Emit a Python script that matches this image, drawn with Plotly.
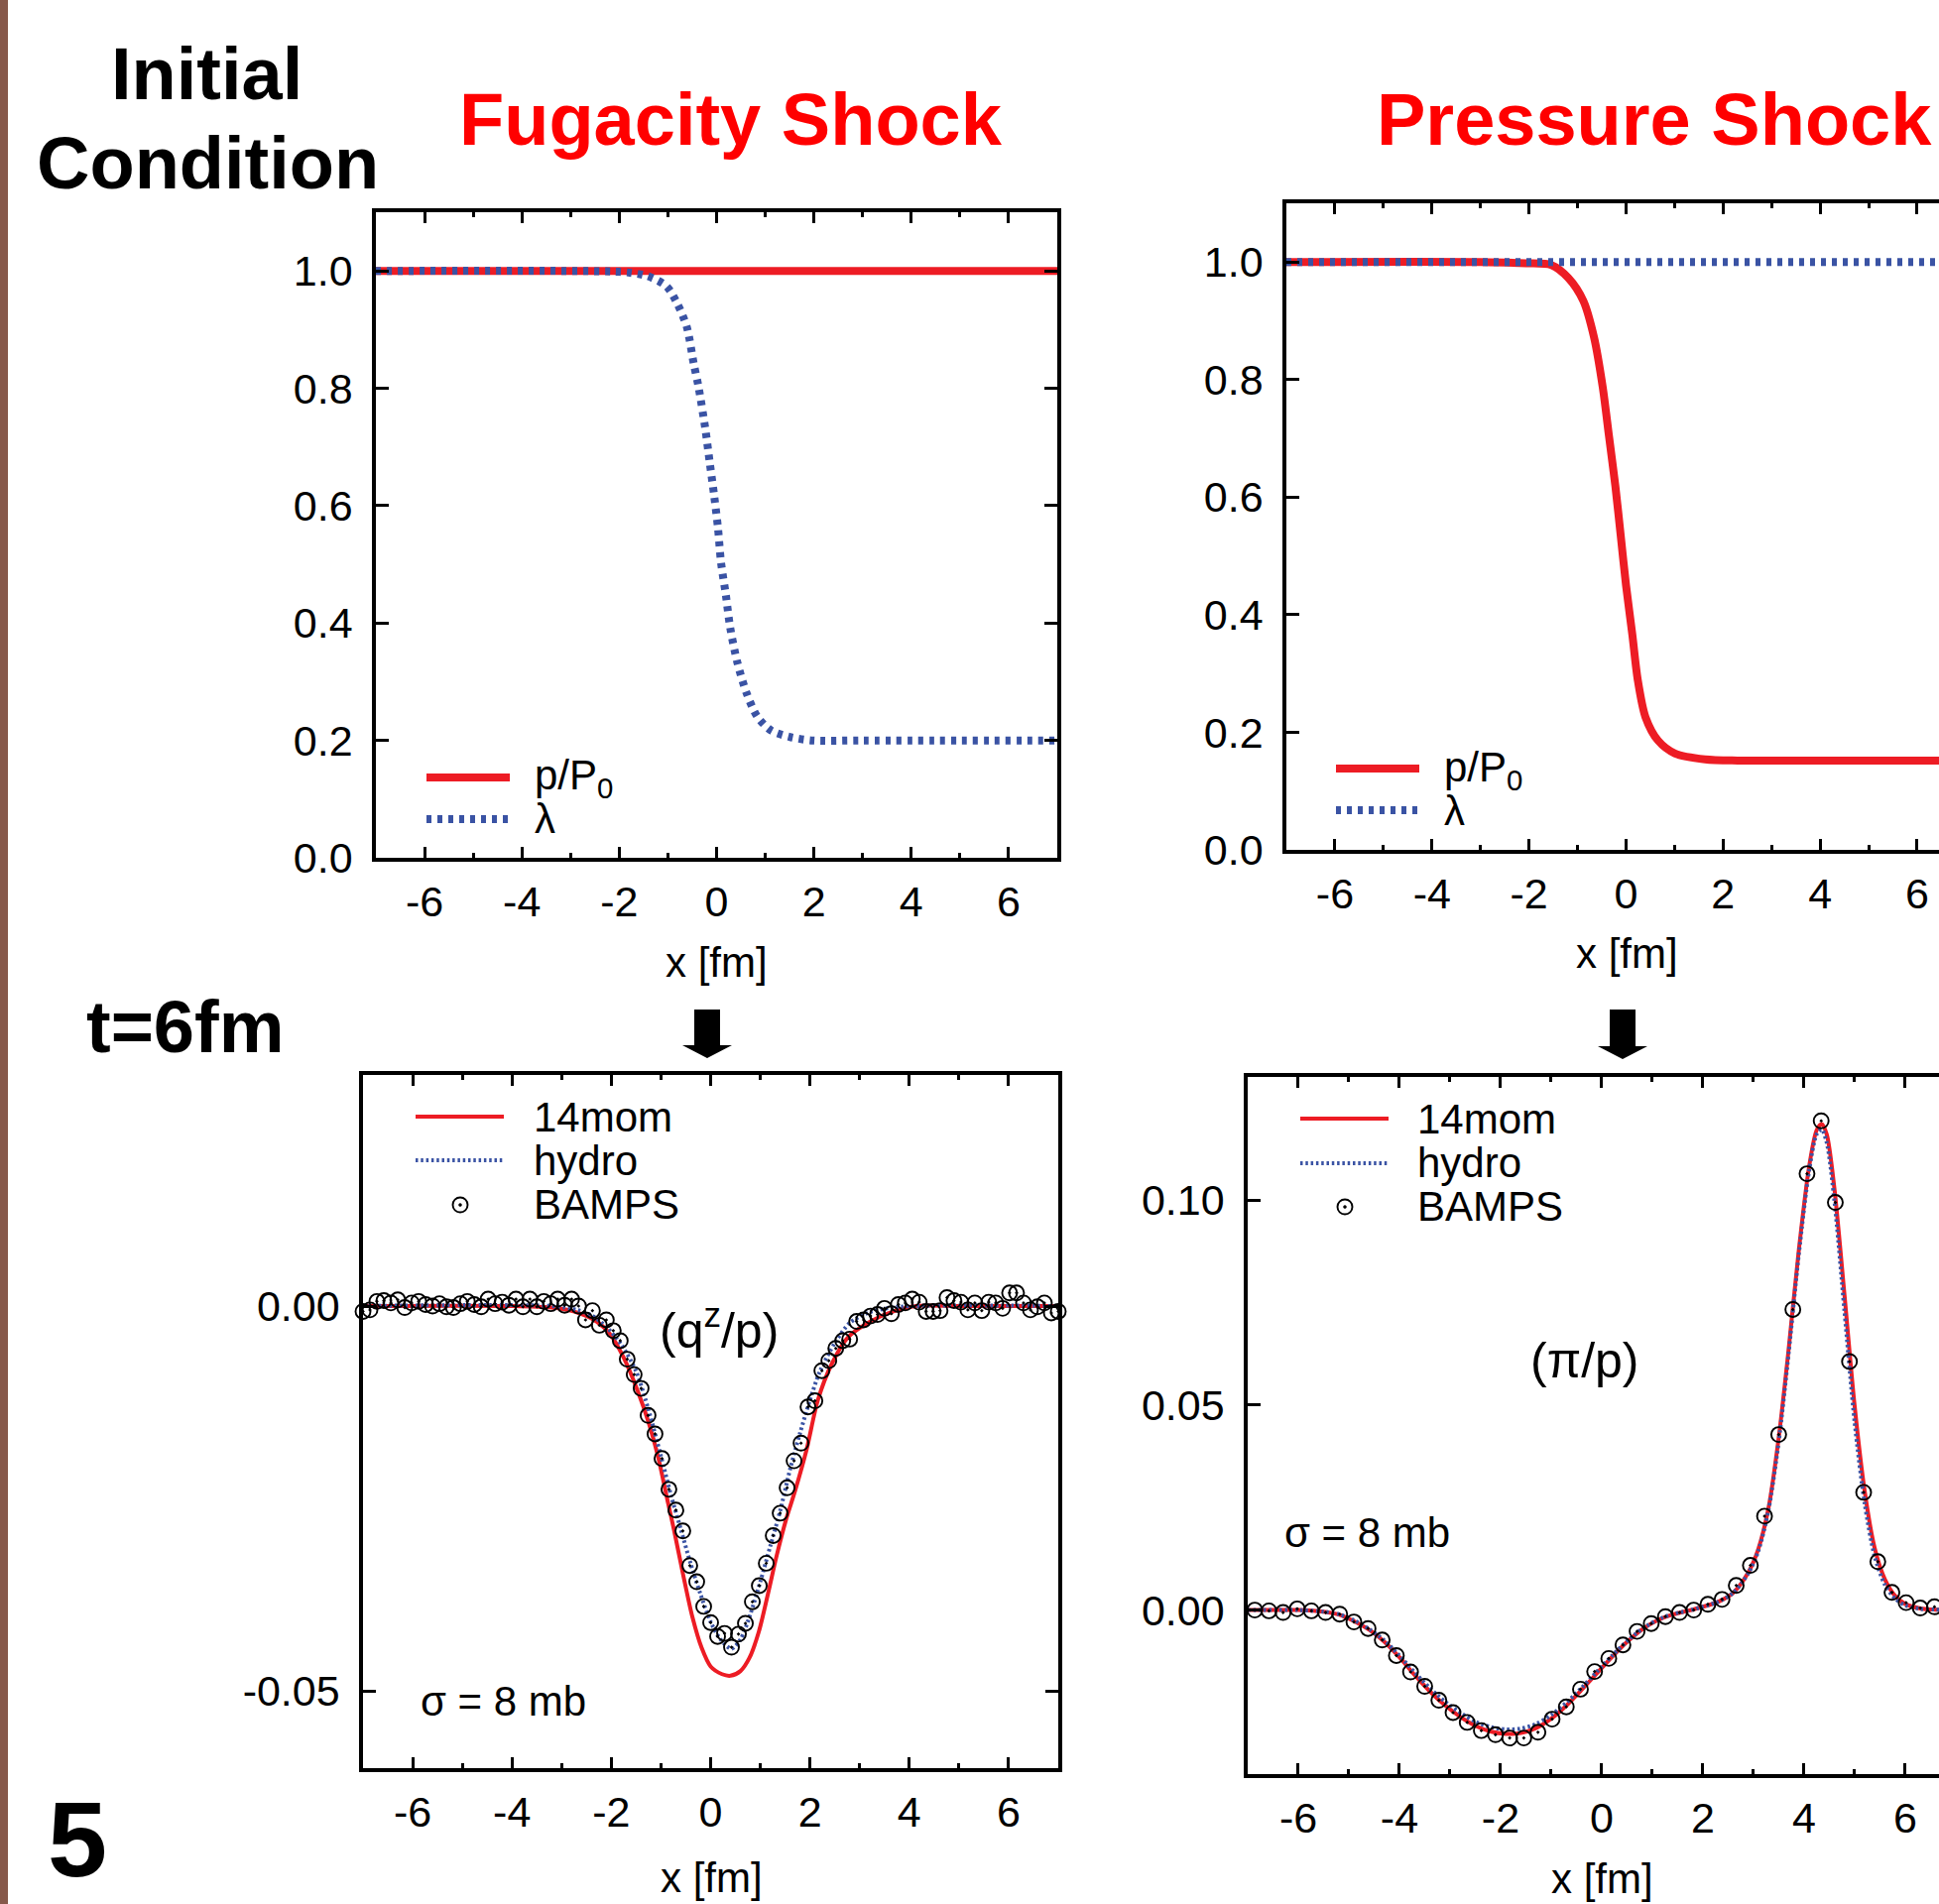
import plotly.graph_objects as go

W, H = 1955, 1920
def px(x): return x / W
def py(y): return 1 - y / H

RED = '#ED1C24'
BLUE = '#3A53A4'
TRED = '#FF0000'
FONT = 'Liberation Sans, Arial, Helvetica, sans-serif'

# ---------------- data ----------------
x_ticks = [-6, -4, -2, 0, 2, 4, 6]
x_ticktext = ['-6', '-4', '-2', '0', '2', '4', '6']
x_minor = [-5, -3, -1, 1, 3, 5]
top_y_ticks = [0.0, 0.2, 0.4, 0.6, 0.8, 1.0]
top_y_ticktext = ['0.0', '0.2', '0.4', '0.6', '0.8', '1.0']
bl_y_ticks = [-0.05, 0.0]
bl_y_ticktext = ['-0.05', '0.00']
br_y_ticks = [0.0, 0.05, 0.10]
br_y_ticktext = ['0.00', '0.05', '0.10']

# Fugacity shock initial condition
fug_p_x = [-7.0, 7.0]
fug_p_y = [1.0, 1.0]
fug_lam_x = [-7.0, -3.0, -2.16, -1.78, -1.41, -1.03, -0.80, -0.61, -0.47, -0.37, -0.23, -0.14,
             -0.05, 0.03, 0.09, 0.19, 0.28, 0.42, 0.61, 0.84, 1.12, 1.50, 1.97, 3.0, 7.0]
fug_lam_y = [1.0, 1.0, 0.999, 0.997, 0.991, 0.974, 0.943, 0.904, 0.842, 0.802, 0.730, 0.673,
             0.617, 0.561, 0.504, 0.448, 0.392, 0.335, 0.282, 0.240, 0.217, 0.206, 0.200, 0.200, 0.200]

# Pressure shock initial condition
prs_p_x = [-7.0, -3.0, -2.06, -1.54, -1.19, -0.88, -0.66, -0.48, -0.35, -0.22, -0.11, 0.0,
           0.13, 0.24, 0.40, 0.66, 1.01, 1.63, 2.3, 4.0, 7.0]
prs_p_y = [1.0, 1.0, 0.998, 0.995, 0.973, 0.934, 0.872, 0.787, 0.703, 0.619, 0.535, 0.450,
           0.366, 0.290, 0.226, 0.186, 0.164, 0.154, 0.152, 0.152, 0.152]
prs_lam_x = [-7.0, 7.0]
prs_lam_y = [1.0, 1.0]

# Fugacity shock, t = 6 fm : q^z / p
fq_mom_x = [-7.0, -4.0, -3.2, -2.76, -2.3, -2.02, -1.75, -1.47, -1.24, -1.06, -0.87, -0.74,
            -0.55, -0.37, -0.18, 0.0, 0.23, 0.40, 0.60, 0.78, 0.97, 1.15, 1.33, 1.52, 1.70,
            1.93, 2.16, 2.44, 2.76, 3.22, 3.68, 4.14, 5.0, 7.0]
fq_mom_y = [0.0, 0.0, -0.0002, -0.0007, -0.0020, -0.0037, -0.0067, -0.0110, -0.0153, -0.0195,
            -0.0252, -0.0290, -0.0350, -0.0403, -0.0444, -0.0468, -0.0478, -0.0480, -0.0474,
            -0.0457, -0.0423, -0.0375, -0.0324, -0.0277, -0.0240, -0.0187, -0.0122, -0.0075,
            -0.0041, -0.0020, -0.0007, 0.0, 0.0, 0.0]
fq_hyd_x = [-7.0, -3.2, -2.7, -2.4, -2.1, -1.8, -1.5, -1.25, -1.0, -0.8, -0.6, -0.4, -0.2,
            0.0, 0.2, 0.42, 0.6, 0.8, 1.0, 1.2, 1.4, 1.6, 1.8, 2.0, 2.2, 2.5, 2.8, 3.2, 3.8, 7.0]
fq_hyd_y = [0.0, 0.0, -0.0005, -0.0012, -0.0027, -0.0050, -0.0085, -0.0135, -0.0195, -0.0245,
            -0.0290, -0.0335, -0.0375, -0.0410, -0.0433, -0.0445, -0.0433, -0.0400, -0.0358,
            -0.0312, -0.0266, -0.0212, -0.0165, -0.0122, -0.0085, -0.0048, -0.0022, -0.0008,
            -0.0001, 0.0]
fq_bamps_x = [-7.00, -6.86, -6.72, -6.58, -6.44, -6.30, -6.16, -6.02, -5.88, -5.74, -5.60,
              -5.46, -5.32, -5.18, -5.04, -4.90, -4.76, -4.62, -4.48, -4.34, -4.20, -4.06,
              -3.92, -3.78, -3.64, -3.50, -3.36, -3.22, -3.08, -2.94, -2.80, -2.66, -2.52,
              -2.38, -2.24, -2.10, -1.96, -1.82, -1.68, -1.54, -1.40, -1.26, -1.12, -0.98,
              -0.84, -0.70, -0.56, -0.42, -0.28, -0.14, 0.00, 0.14, 0.28, 0.42, 0.56, 0.70,
              0.84, 0.98, 1.12, 1.26, 1.40, 1.54, 1.68, 1.82, 1.96, 2.10, 2.24, 2.38, 2.52,
              2.66, 2.80, 2.94, 3.08, 3.22, 3.36, 3.50, 3.64, 3.78, 3.92, 4.06, 4.20, 4.34,
              4.48, 4.62, 4.76, 4.90, 5.04, 5.18, 5.32, 5.46, 5.60, 5.74, 5.88, 6.02, 6.16,
              6.30, 6.44, 6.58, 6.72, 6.86, 7.00]
fq_bamps_y = [-0.0007, -0.0005, 0.0006, 0.0007, 0.0004, 0.0008, -0.0002, 0.0004, 0.0006, 0.0002,
              0.0000, 0.0003, -0.0001, -0.0002, 0.0003, 0.0006, 0.0002, -0.0001, 0.0009, 0.0003,
              0.0005, 0.0001, 0.0009, -0.0001, 0.0009, -0.0001, 0.0006, 0.0003, 0.0009, 0.0001,
              0.0009, 0.0000, -0.0018, -0.0006, -0.0025, -0.0018, -0.0032, -0.0045, -0.0069,
              -0.0089, -0.0107, -0.0142, -0.0166, -0.0198, -0.0238, -0.0265, -0.0292, -0.0337,
              -0.0358, -0.0390, -0.0411, -0.0429, -0.0425, -0.0443, -0.0426, -0.0412, -0.0384,
              -0.0363, -0.0334, -0.0298, -0.0269, -0.0236, -0.0201, -0.0178, -0.0131, -0.0123,
              -0.0084, -0.0071, -0.0055, -0.0045, -0.0043, -0.0020, -0.0018, -0.0013, -0.0011,
              -0.0003, -0.0010, 0.0002, 0.0004, 0.0009, 0.0005, -0.0007, -0.0007, -0.0006,
              0.0011, 0.0007, 0.0005, -0.0005, 0.0004, -0.0006, 0.0005, 0.0004, -0.0003, 0.0017,
              0.0017, 0.0004, -0.0005, -0.0001, 0.0004, -0.0009, -0.0007]

# Pressure shock, t = 6 fm : pi / p
pp_mom_x = [-7.0, -6.0, -5.5, -5.2, -4.9, -4.6, -4.3, -4.0, -3.7, -3.4, -3.1, -2.8, -2.5, -2.2,
            -1.9, -1.6, -1.3, -1.0, -0.7, -0.4, -0.1, 0.2, 0.5, 0.8, 1.1, 1.4, 1.7, 2.0, 2.3,
            2.6, 2.9, 3.1, 3.3, 3.5, 3.7, 3.9, 4.1, 4.25, 4.35, 4.45, 4.6, 4.8, 5.0, 5.2, 5.4,
            5.6, 5.8, 6.0, 6.3, 6.6, 7.0]
pp_mom_y = [0.0, 0.0, -0.0004, -0.0011, -0.0027, -0.0048, -0.0077, -0.0115, -0.0158, -0.0198,
            -0.0232, -0.0260, -0.0282, -0.0296, -0.0302, -0.0300, -0.0288, -0.0265, -0.0233,
            -0.0195, -0.0155, -0.0115, -0.0078, -0.0047, -0.0025, -0.0011, -0.0002, 0.0008,
            0.0020, 0.0042, 0.0092, 0.0150, 0.0250, 0.0420, 0.0640, 0.0880, 0.1080, 0.1170,
            0.1185, 0.1160, 0.1030, 0.0770, 0.0500, 0.0290, 0.0150, 0.0075, 0.0035, 0.0015,
            0.0004, 0.0001, 0.0]
pp_hyd_x = pp_mom_x
pp_hyd_y = [0.0, 0.0, -0.0004, -0.0010, -0.0025, -0.0046, -0.0074, -0.0111, -0.0152, -0.0190,
            -0.0223, -0.0250, -0.0272, -0.0285, -0.0291, -0.0289, -0.0278, -0.0256, -0.0226,
            -0.0190, -0.0151, -0.0112, -0.0076, -0.0046, -0.0024, -0.0010, -0.0002, 0.0008,
            0.0020, 0.0042, 0.0090, 0.0145, 0.0245, 0.0410, 0.0630, 0.0870, 0.1070, 0.1160,
            0.1172, 0.1140, 0.1000, 0.0730, 0.0460, 0.0260, 0.0130, 0.0062, 0.0028, 0.0012,
            0.0003, 0.0001, 0.0]
pp_bamps_x = [-6.86, -6.58, -6.30, -6.02, -5.74, -5.46, -5.18, -4.90, -4.62, -4.34, -4.06,
              -3.78, -3.50, -3.22, -2.94, -2.66, -2.38, -2.10, -1.82, -1.54, -1.26, -0.98,
              -0.70, -0.42, -0.14, 0.14, 0.42, 0.70, 0.98, 1.26, 1.54, 1.82, 2.10, 2.38, 2.66,
              2.94, 3.22, 3.50, 3.78, 4.06, 4.34, 4.62, 4.90, 5.18, 5.46, 5.74, 6.02, 6.30,
              6.58, 6.86]
pp_bamps_y = [0.0000, -0.0002, -0.0006, 0.0003, -0.0002, -0.0006, -0.0010, -0.0029, -0.0045,
              -0.0073, -0.0111, -0.0151, -0.0186, -0.0220, -0.0250, -0.0274, -0.0294, -0.0304,
              -0.0312, -0.0312, -0.0298, -0.0266, -0.0236, -0.0193, -0.0150, -0.0118, -0.0085,
              -0.0052, -0.0033, -0.0016, -0.0006, 0.0000, 0.0014, 0.0026, 0.0060, 0.0109, 0.0229,
              0.0428, 0.0733, 0.1064, 0.1193, 0.0994, 0.0606, 0.0287, 0.0118, 0.0043, 0.0018,
              0.0005, 0.0008, 0.0000]

# ---------------- figure ----------------
fig = go.Figure()

def line(x, y, ax, color, width, dash='solid', spline=True):
    fig.add_trace(go.Scatter(x=x, y=y, mode='lines', xaxis='x' + ax, yaxis='y' + ax,
                             line=dict(color=color, width=width, dash=dash,
                                       shape='spline' if spline else 'linear', smoothing=0.8),
                             showlegend=False, hoverinfo='skip'))

line(fug_p_x, fug_p_y, '', RED, 8, spline=False)
line(fug_lam_x, fug_lam_y, '', BLUE, 8, '5px,6px')
line(prs_p_x, prs_p_y, '2', RED, 8)
line(prs_lam_x, prs_lam_y, '2', BLUE, 8, '5px,6px', spline=False)
line(fq_mom_x, fq_mom_y, '3', RED, 4)
line(fq_hyd_x, fq_hyd_y, '3', BLUE, 4, '2.5px,2.8px')
line(pp_mom_x, pp_mom_y, '4', RED, 4)
line(pp_hyd_x, pp_hyd_y, '4', BLUE, 4, '2.5px,2.8px')

for bx, by, ax in [(fq_bamps_x, fq_bamps_y, '3'), (pp_bamps_x, pp_bamps_y, '4')]:
    fig.add_trace(go.Scatter(x=bx, y=by, mode='markers', xaxis='x' + ax, yaxis='y' + ax,
                             marker=dict(symbol='circle-open-dot', size=15, color='black',
                                         line=dict(width=1.9, color='black')),
                             cliponaxis=False, showlegend=False, hoverinfo='skip'))

tickfont = dict(family=FONT, size=43, color='black')
def xax(domain, anchor, rng, mirror='ticks'):
    return dict(domain=domain, anchor=anchor, range=rng, showline=True, linewidth=3.5,
                linecolor='black', mirror=mirror, ticks='inside', ticklen=11, tickwidth=3,
                tickcolor='black', tickmode='array', tickvals=x_ticks, ticktext=x_ticktext,
                minor=dict(tickmode='array', tickvals=x_minor, ticks='inside', ticklen=5,
                           tickwidth=3, tickcolor='black'),
                showgrid=False, zeroline=False, tickfont=tickfont, ticklabelstandoff=4,
                automargin=False, fixedrange=True)
def yax(domain, anchor, rng, tv, tt, mirror='ticks'):
    return dict(domain=domain, anchor=anchor, range=rng, showline=True, linewidth=3.5,
                linecolor='black', mirror=mirror, ticks='inside', ticklen=13, tickwidth=3,
                tickcolor='black', tickmode='array', tickvals=tv, ticktext=tt,
                showgrid=False, zeroline=False, tickfont=tickfont, ticklabelstandoff=11,
                automargin=False, fixedrange=True)

TL_X = [px(379), px(1066)]; TL_Y = [py(865), py(214)]
TR_X = [px(1297), 1.0];     TR_Y = [py(857), py(205)]
BL_X = [px(366), px(1067)]; BL_Y = [py(1783), py(1084)]
BR_X = [px(1258), 1.0];     BR_Y = [py(1789), py(1086)]

fig.update_layout(
    template='none',
    width=W, height=H, margin=dict(l=0, r=0, t=0, b=0, pad=0, autoexpand=False),
    autosize=False,
    paper_bgcolor='white', plot_bgcolor='white', showlegend=False,
    xaxis=xax(TL_X, 'y', [-7, 7]),
    yaxis=yax(TL_Y, 'x', [0, 1.1], top_y_ticks, top_y_ticktext),
    xaxis2=xax(TR_X, 'y2', [-7, 6.45]),
    yaxis2=yax(TR_Y, 'x2', [0, 1.1], top_y_ticks, top_y_ticktext, mirror=False),
    xaxis3=xax(BL_X, 'y3', [-7, 7]),
    yaxis3=yax(BL_Y, 'x3', [-0.06, 0.03], bl_y_ticks, bl_y_ticktext),
    xaxis4=xax(BR_X, 'y4', [-7, 6.67]),
    yaxis4=yax(BR_Y, 'x4', [-0.04, 0.13], br_y_ticks, br_y_ticktext, mirror=False),
)

ann = []
def text(t, x, y, size=42, color='black', xanchor='center', bold=False):
    ann.append(dict(text=('<b>%s</b>' % t) if bold else t, x=px(x), y=py(y), xref='paper',
                    yref='paper', xanchor=xanchor, yanchor='middle', showarrow=False,
                    font=dict(family=FONT, size=size, color=color)))

text('Initial', 208, 74, 74, bold=True)
text('Condition', 209, 164, 74, bold=True)
text('Fugacity Shock', 737, 120, 74, TRED, bold=True)
text('Pressure Shock', 1386, 120, 74, TRED, xanchor='left', bold=True)
text('t=6fm', 85, 1035, 74, xanchor='left', bold=True)
text('5', 46, 1854, 108, xanchor='left', bold=True)

for (x, y) in [(722, 970), (1640, 961), (717, 1893), (1615, 1894)]:
    text('x [fm]', x, y)

# legends
text('p/P<sub>0</sub>', 537, 784, xanchor='left')
text('λ', 537, 825, xanchor='left')
text('p/P<sub>0</sub>', 1454, 776, xanchor='left')
text('λ', 1454, 817, xanchor='left')
for (lx, ly) in [(536, 1126), (1427, 1128)]:
    text('14mom', lx, ly, xanchor='left')
    text('hydro', lx, ly + 44, xanchor='left')
    text('BAMPS', lx, ly + 88, xanchor='left')

text('(q<sup>z</sup>/p)', 725, 1338, 50)
text('(π/p)', 1598, 1372, 50)
text('σ = 8 mb', 422, 1715, xanchor='left')
text('σ = 8 mb', 1293, 1545, xanchor='left')

shapes = []
def seg(x0, x1, y, color, width, dash='solid'):
    shapes.append(dict(type='line', xref='paper', yref='paper', x0=px(x0), x1=px(x1),
                       y0=py(y), y1=py(y), line=dict(color=color, width=width, dash=dash)))
seg(430, 514, 784, RED, 8)
seg(430, 514, 826, BLUE, 8, '5px,6px')
seg(1347, 1431, 775, RED, 8)
seg(1347, 1431, 817, BLUE, 8, '5px,6px')
seg(419, 508, 1126, RED, 4)
seg(419, 508, 1170, BLUE, 4, '2.5px,2.8px')
seg(1311, 1400, 1128, RED, 4)
seg(1311, 1400, 1173, BLUE, 4, '2.5px,2.8px')

def glyph(cx, cy):
    r = 7.5
    shapes.append(dict(type='circle', xref='paper', yref='paper', x0=px(cx - r), x1=px(cx + r),
                       y0=py(cy + r), y1=py(cy - r), line=dict(color='black', width=1.9)))
    r2 = 1.5
    shapes.append(dict(type='circle', xref='paper', yref='paper', x0=px(cx - r2), x1=px(cx + r2),
                       y0=py(cy + r2), y1=py(cy - r2), fillcolor='black',
                       line=dict(color='black', width=0.5)))
glyph(464, 1215)
glyph(1356, 1217)

def arrow(cx, top, neck, tip, sw=13, hw=25):
    pts = [(cx - sw, top), (cx + sw, top), (cx + sw, neck), (cx + hw, neck), (cx, tip),
           (cx - hw, neck), (cx - sw, neck)]
    path = 'M ' + ' L '.join('%.6f,%.6f' % (px(a), py(b)) for a, b in pts) + ' Z'
    shapes.append(dict(type='path', xref='paper', yref='paper', path=path,
                       fillcolor='black', line=dict(color='black', width=0)))
arrow(713, 1018, 1054, 1067)
arrow(1636, 1018, 1055, 1068)

# brown slide border
shapes.append(dict(type='rect', xref='paper', yref='paper', x0=0, x1=px(8), y0=0, y1=1,
                   fillcolor='#86584A', line=dict(width=0)))

fig.update_layout(annotations=ann, shapes=shapes)

fig.write_html("out.html", config={'displayModeBar': False},
               post_script="document.body.style.margin='0';document.body.style.overflow='hidden';")
